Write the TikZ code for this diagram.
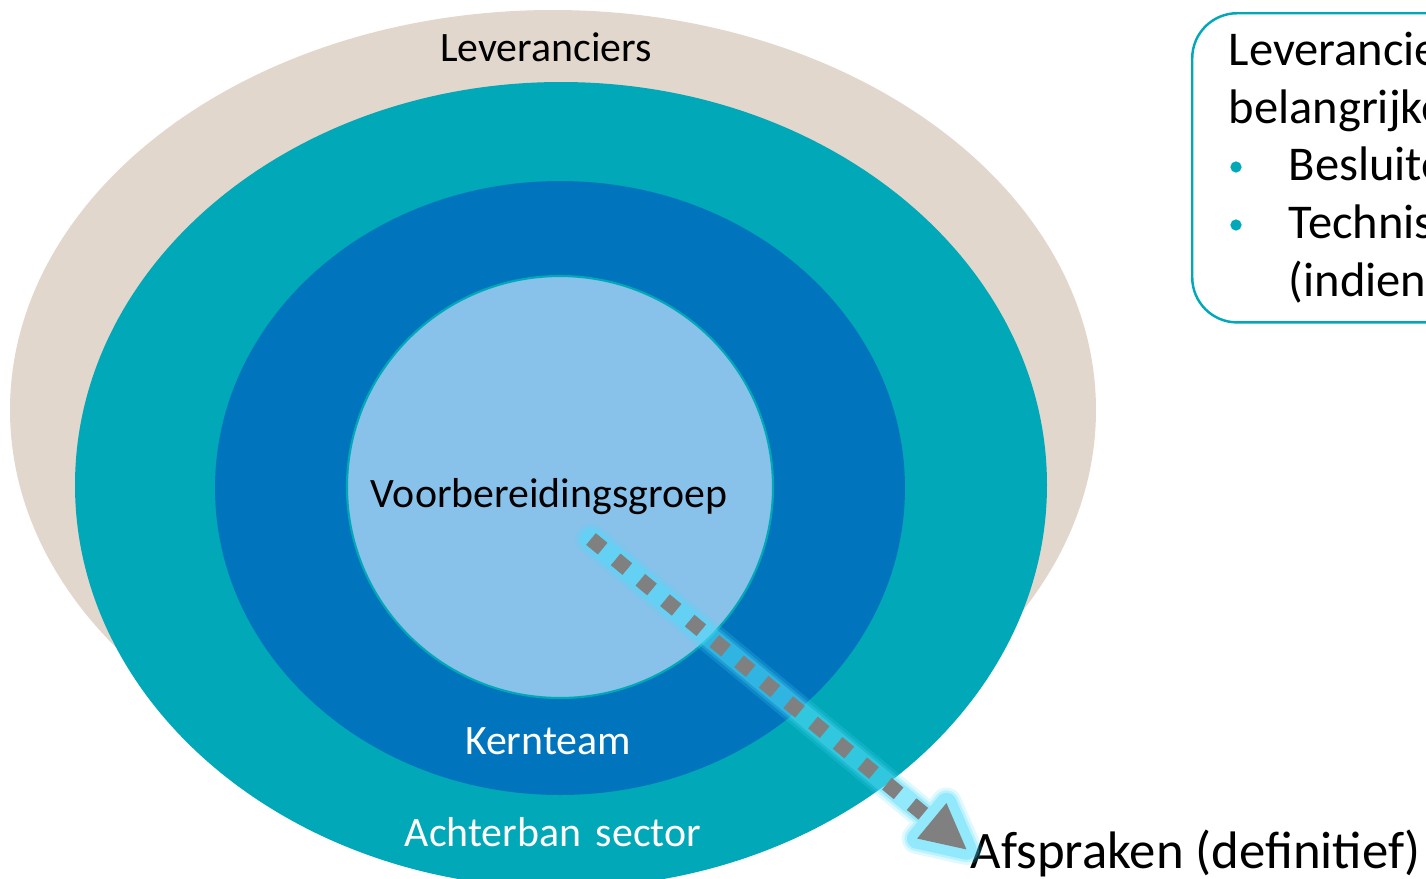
\documentclass[tikz,border=0pt]{standalone}
\usepackage{fontspec}
\setmainfont{Carlito}
\usetikzlibrary{arrows.meta,positioning,calc}

\definecolor{beige}{HTML}{E2D7CD}
\definecolor{achterban}{HTML}{00A8B8}
\definecolor{kern}{HTML}{0075BE}
\definecolor{voorb}{HTML}{88C1EA}
\definecolor{gloed}{HTML}{4FDCFA}
\definecolor{pijl}{HTML}{808080}

\tikzset{
  ringlabel/.style={font=\fontsize{11.9}{14}\selectfont, anchor=base, inner sep=0pt},
  infobox/.style={draw=achterban, line width=0.7pt, rounded corners=12.8pt, fill=white},
  infotext/.style={font=\fontsize{13.8}{16}\selectfont, anchor=base west, inner sep=0pt},
  bolletje/.style={circle, fill=achterban, inner sep=0pt, minimum size=3.2pt},
  gloedlaag/.style={gloed, line width=#1, line cap=round, line join=round},
}

\begin{document}
\begin{tikzpicture}[x=0.01cm, y=-0.01cm]
    \useasboundingbox (0,0) rectangle (1426,878);
    \clip (0,0) rectangle (1426,878);
    % ringen
    \fill[beige] (553,410) ellipse [x radius=543, y radius=400];
    \fill[achterban] (561,485) ellipse [x radius=486, y radius=403];
    \fill[kern] (560,488) ellipse [x radius=345, y radius=307];
    \draw[achterban, fill=voorb, line width=0.6pt] (560,487) ellipse [x radius=213, y radius=211];

    \node[ringlabel] (lev) at (546,61) {Leveranciers};
    \node[ringlabel] (voorbereiding) at (549,507) {Voorbereidingsgroep};
    \node[ringlabel, text=white] (kernteam) at (548,754) {Kernteam};
    \node[ringlabel, text=white] (achterban) at (553,846) {Achterban\hspace{0.35em}sector};

    % pijl naar afspraken
    \coordinate (vertrek) at (591,539);
    \node[font=\fontsize{15}{18}\selectfont, anchor=base west, inner sep=0pt] (afspraken) at (970,868) {Afspraken (definitief)};
    \coordinate (punt) at ([xshift=-1pt,yshift=1pt]afspraken.west);
    \coordinate (voet) at ($(punt)!0.45cm!(vertrek)$);
    \coordinate (hoek1) at ($(voet)!0.23cm!90:(punt)$);
    \coordinate (hoek2) at ($(voet)!0.23cm!-90:(punt)$);
    \foreach \breed/\dek in {8.8pt/0.18, 7.2pt/0.25, 5.8pt/0.38} {
        \begin{scope}[transparency group, opacity=\dek]
            \draw[gloedlaag=\breed] (vertrek) -- (voet);
            \filldraw[gloedlaag=\breed] (punt) -- (hoek1) -- (hoek2) -- cycle;
        \end{scope}
    }
    \draw[pijl, line width=4.3pt, dash pattern=on 4.3pt off 4.8pt, -{Triangle[length=12.8pt,width=13pt,line width=0.4pt]}] (vertrek) -- (punt);

    % kader rechts
    \node[infobox, anchor=north west, minimum width=5cm, minimum height=3.09cm] (info) at (1191,12) {};
    \node[infotext] (regel1) at (1228,65) {Leveranciers};
    \node[infotext] (regel2) at (1228,123) {belangrijke};
    \node[bolletje] (punt1) at (1236,167) {};
    \node[infotext] (regel3) at (1288,180) {Besluiten};
    \node[bolletje] (punt2) at (1236,225) {};
    \node[infotext] (regel4) at (1288,238) {Technische};
    \node[infotext] (regel5) at (1288,296) {(indien};
\end{tikzpicture}
\end{document}
